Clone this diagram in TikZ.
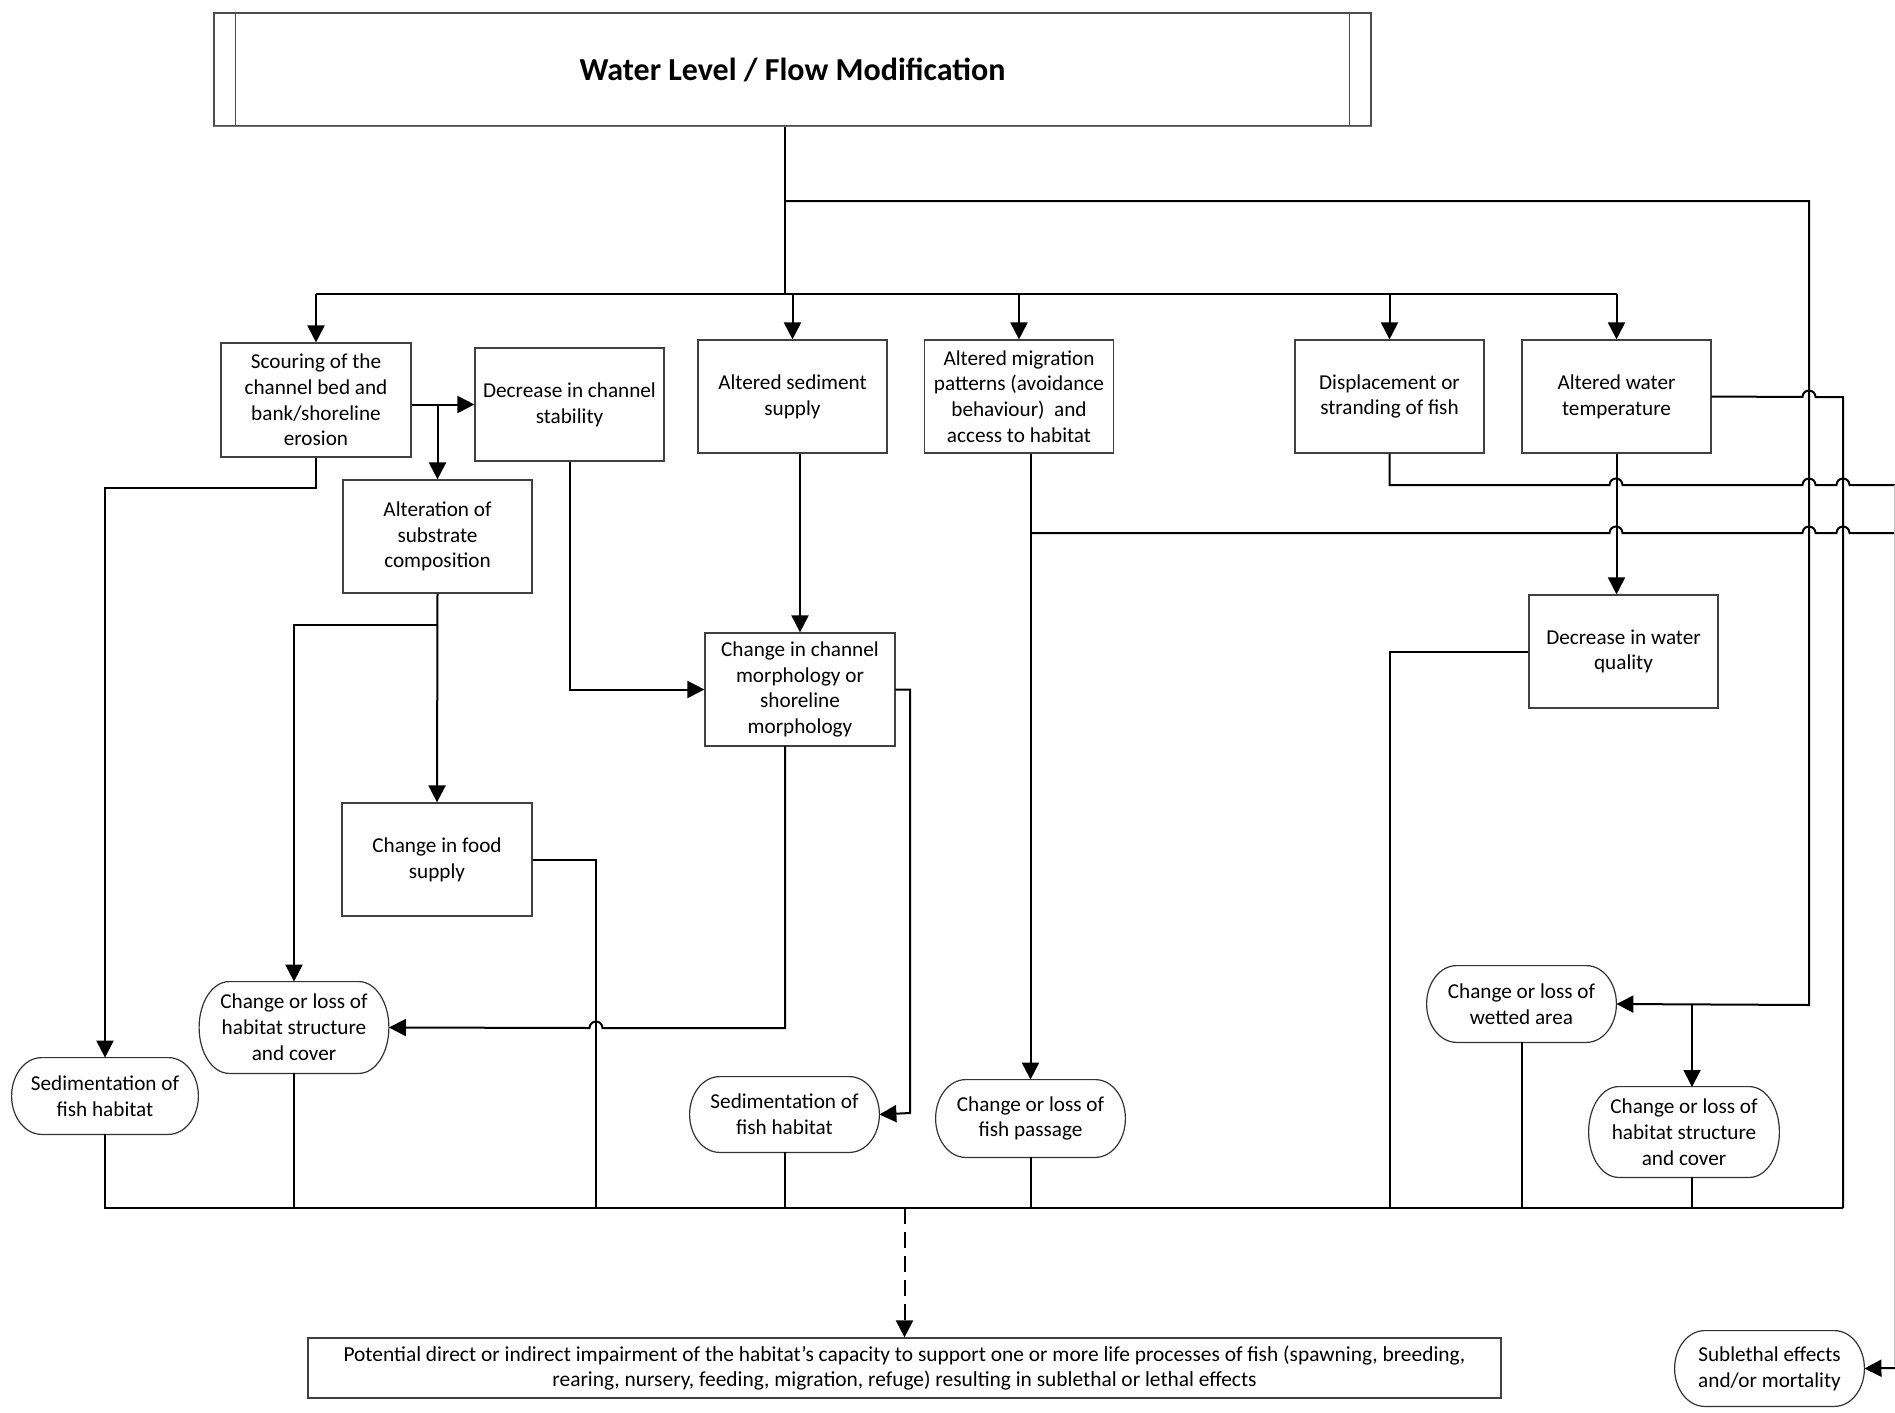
\documentclass[tikz,border=0pt]{standalone}
\usepackage{fontspec}
\setmainfont{Carlito}
\usetikzlibrary{arrows.meta,calc}

% line hop over a vertical line at x=#1 on a horizontal line at y=#2
\newcommand\hopR[2]{-- ({#1-6.5},#2) arc[start angle=180,end angle=0,radius=3.25pt]}
\newcommand\hopL[2]{-- ({#1+6.5},#2) arc[start angle=0,end angle=180,radius=3.25pt]}
% outline of a terminal node: flat top and bottom, half-ellipse ends
\newcommand\termoutline[1]{%
  \draw[termline] let \p1=(#1.north), \p2=(#1.south), \n1={(\y1-\y2)/2} in
    ([xshift=15pt]#1.north west) -- ([xshift=-15pt]#1.north east)
    arc[start angle=90,end angle=-90,x radius=15pt,y radius=\n1]
    -- ([xshift=15pt]#1.south west)
    arc[start angle=270,end angle=90,x radius=15pt,y radius=\n1] -- cycle;}

\begin{document}
\begin{tikzpicture}[x=0.5pt,y=-0.5pt,
  every node/.style={font=\fontsize{10.6}{12.9}\selectfont, align=center, inner sep=0pt},
  box/.style={draw=black!75, line width=0.6pt, minimum width=94.5pt, minimum height=56.5pt},
  term/.style={minimum width=94.5pt},
  termline/.style={draw=black!80, line width=0.6pt},
  link/.style={line width=1pt, black},
  arr/.style={link, -{Triangle[length=8.5pt,width=8.5pt]}},
  dasharr/.style={arr, dash pattern=on 8pt off 4pt}]
\useasboundingbox (0,0) rectangle (1895,1413);

% title
\node[draw=black!70, line width=0.6pt, minimum width=578.5pt, minimum height=56.5pt,
      font=\fontsize{16}{19}\selectfont\bfseries] (title) at (792.5,69.5) {Water Level / Flow Modification};
\draw[draw=black!70, line width=0.6pt] ([xshift=11pt]title.north west) -- ([xshift=11pt]title.south west);
\draw[draw=black!70, line width=0.6pt] ([xshift=-11pt]title.north east) -- ([xshift=-11pt]title.south east);
\draw[black!55, line width=0.9pt] (title.south west) -- (title.south east);

% first-order effects
\node[box, minimum width=95pt, minimum height=57pt] (scour) at (316,400) {Scouring of the\\channel bed and\\bank/shoreline\\erosion};
\node[box] (stab) at (569.5,404.5) {Decrease in channel\\stability};
\node[box] (subst) at (437.5,536.5) {Alteration of\\substrate\\composition};
\node[box] (sedsup) at (792.5,396.5) {Altered sediment\\supply};
\node[box] (migr) at (1019,396.5) {Altered migration\\patterns (avoidance\\behaviour)\ \ and\\access to habitat};
\node[box] (disp) at (1389.5,396.5) {Displacement or\\stranding of fish};
\node[box] (wtemp) at (1616.5,396.5) {Altered water\\temperature};
\node[box] (wqual) at (1623.5,651.5) {Decrease in water\\quality};
\node[box, minimum width=95pt] (morph) at (800,689.5) {Change in channel\\morphology or\\shoreline\\morphology};
\node[box, minimum width=95pt] (food) at (437,859.5) {Change in food\\supply};

% pathways of effects (terminal nodes)
\node[term, minimum width=93pt, minimum height=38pt] (sedL) at (105,1096) {Sedimentation of\\fish habitat};
\node[term, minimum height=45.5pt] (habL) at (294,1027.5) {Change or loss of\\habitat structure\\and cover};
\node[term, minimum height=37.5pt] (sedM) at (784.5,1114.5) {Sedimentation of\\fish habitat};
\node[term, minimum height=38.5pt] (fish) at (1030.5,1118.5) {Change or loss of\\fish passage};
\node[term, minimum height=38pt] (wet) at (1521.5,1004) {Change or loss of\\wetted area};
\node[term, minimum width=95pt, minimum height=45pt] (habR) at (1684,1132) {Change or loss of\\habitat structure\\and cover};
\node[term, minimum height=37.5pt] (sub) at (1769.5,1368.5) {Sublethal effects\\and/or mortality};
\termoutline{sedL}
\termoutline{habL}
\termoutline{sedM}
\termoutline{fish}
\termoutline{wet}
\termoutline{habR}
\termoutline{sub}

% outcome
\node[draw=black!75, line width=0.6pt, minimum width=596.5pt, minimum height=30pt,
      font=\fontsize{10.7}{12.9}\selectfont] (out) at (904.5,1368)
  {Potential direct or indirect impairment of the habitat’s capacity to support one or more life processes of fish (spawning, breeding,\\
   rearing, nursery, feeding, migration, refuge) resulting in sublethal or lethal effects};

% junction points and free ends
\coordinate (top) at (785,294);
\coordinate (bus) at (104,1208);
\coordinate (busE) at (1843,1208);
\coordinate (edgeA) at (1895,485);
\coordinate (edgeB) at (1895,533);
\coordinate (edgeC) at (1895,1368);

% from the title
\draw[link] (title.south -| top) -- (top);
\draw[link] (scour.north |- top) -- (wtemp.north |- top);
\foreach \t in {scour,sedsup,migr,disp,wtemp} {\draw[arr] (\t.north |- top) -- (\t.north);}
\draw[arr] (785,201) -- (1809,201) -- (1809,1005) -- (wet.east);
\draw[arr] (1692,1005) -- (1692,1087);

% left branch
\draw[arr] (scour.east |- stab.west) -- (stab.west);
\draw[arr] (subst.north |- stab.west) -- (subst.north);
\draw[arr] (scour.south) -- (316,488) -- (105,488) -- (sedL.north);
\draw[arr] (subst.south) -- (food.north);
\draw[arr] (437.5,625) -- (294,625) -- (habL.north);
\draw[arr] (stab.south) |- (morph.west);
\draw[arr] (morph.north |- sedsup.south) -- (morph.north);
\draw[arr] (785,746) -- (785,1028) \hopL{596}{1028} -- (habL.east);
\draw[arr] (morph.east) -- (910,689.5) -- (910,1113) -- (sedM.east);
\draw[link] (food.east) -- (596,859.5) -- (596,1208);

% right branch
\draw[arr] (fish.north |- migr.south) -- (fish.north);
\draw[link] (1030,533) \hopR{1616}{533} \hopR{1809}{533} \hopR{1843}{533} -- (edgeB);
\draw[link] (disp.south) -- (1389.5,485) \hopR{1616}{485} \hopR{1809}{485} \hopR{1843}{485} -- (edgeA);
\draw[arr] (wtemp.south) -- (wtemp.south |- wqual.north);
\draw[link] (wtemp.east) \hopR{1809}{397} -- (1843,397) -- (busE);
\draw[link] (wqual.west) -- (1390,651.5) -- (1390,1208);

% collecting line
\draw[link] (bus) -- (busE);
\foreach \t in {sedL,habL,sedM,fish,wet} {\draw[link] (\t.south) -- (\t.south |- bus);}
\draw[link] (1692,1177) -- (1692,1208);
\draw[dasharr] (out.north |- bus) -- (out.north);
\draw[arr] (edgeC) -- (sub.east);
\draw[black!25, line width=0.5pt] (1894,485) -- (1894,1366);
\end{tikzpicture}
\end{document}
